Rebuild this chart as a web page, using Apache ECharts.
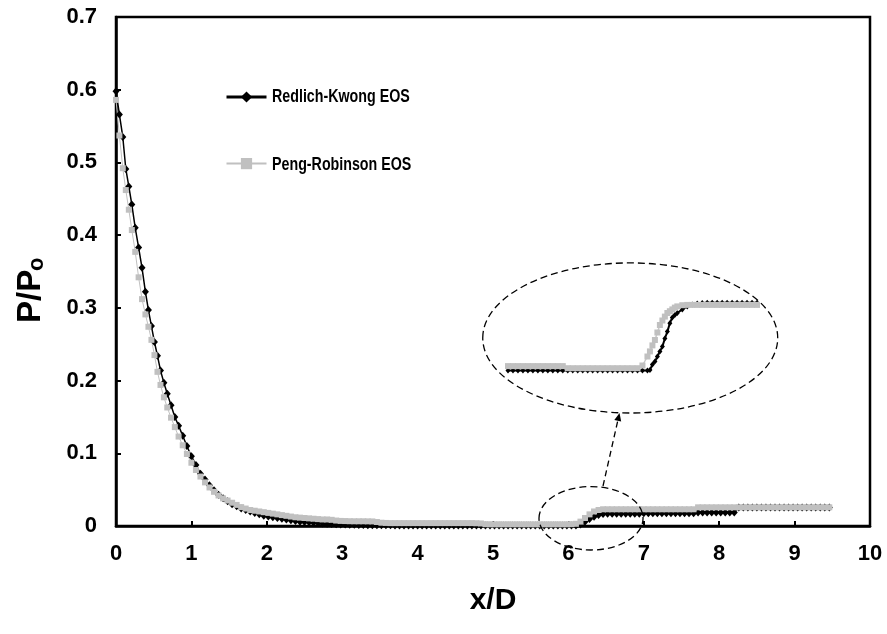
<!DOCTYPE html>
<html>
<head>
<meta charset="utf-8">
<script src="https://cdn.jsdelivr.net/npm/echarts@6/dist/echarts.min.js"></script>
<style>
  html, body { margin: 0; padding: 0; background: #fff; }
  #chart { width: 887px; height: 634px; }
</style>
</head>
<body>
<div id="chart"></div>
<script>
// Axial station along the jet, x/D
const xD = [
  0, 0.045, 0.09, 0.13, 0.17, 0.21, 0.255, 0.30, 0.345, 0.39,
  0.43, 0.47, 0.51, 0.55, 0.59, 0.635, 0.68, 0.73, 0.78, 0.83,
  0.885, 0.94, 1.0, 1.06, 1.12, 1.18, 1.24, 1.30, 1.36, 1.42,
  1.48, 1.54, 1.60, 1.66, 1.72, 1.78, 1.84, 1.90, 1.96, 2.02,
  2.08, 2.14, 2.20, 2.26, 2.32, 2.38, 2.44, 2.50, 2.56, 2.62,
  2.68, 2.74, 2.80, 2.86, 2.92, 2.98, 3.04, 3.10, 3.16, 3.22,
  3.28, 3.34, 3.40, 3.46, 3.52, 3.58, 3.64, 3.70, 3.76, 3.82,
  3.88, 3.94, 4.00, 4.06, 4.12, 4.18, 4.24, 4.30, 4.36, 4.42,
  4.48, 4.54, 4.60, 4.66, 4.72, 4.78, 4.84, 4.90, 4.96, 5.02,
  5.08, 5.14, 5.20, 5.26, 5.32, 5.38, 5.44, 5.50, 5.56, 5.62,
  5.68, 5.74, 5.80, 5.86, 5.92, 5.98, 6.04, 6.10, 6.16, 6.22,
  6.28, 6.34, 6.40, 6.46, 6.52, 6.58, 6.64, 6.70, 6.76, 6.82,
  6.88, 6.94, 7.00, 7.06, 7.12, 7.18, 7.24, 7.30, 7.36, 7.42,
  7.48, 7.54, 7.60, 7.66, 7.72, 7.78, 7.84, 7.90, 7.96, 8.02,
  8.08, 8.14, 8.20, 8.26, 8.32, 8.38, 8.44, 8.50, 8.56, 8.62,
  8.68, 8.74, 8.80, 8.86, 8.92, 8.98, 9.04, 9.10, 9.16, 9.22,
  9.28, 9.34, 9.40, 9.46
];

// P/Po with the Redlich-Kwong equation of state
const rkPressure = [
  0.598, 0.566, 0.535, 0.491, 0.467, 0.442, 0.410, 0.383, 0.355, 0.322,
  0.297, 0.275, 0.253, 0.234, 0.214, 0.197, 0.182, 0.166, 0.150, 0.138,
  0.124, 0.110, 0.096, 0.084, 0.072, 0.064, 0.056, 0.049, 0.043, 0.038,
  0.034, 0.030, 0.027, 0.024, 0.022, 0.020, 0.018, 0.016, 0.014, 0.013,
  0.012, 0.011, 0.010, 0.009, 0.008, 0.007, 0.006, 0.0055, 0.005, 0.0045,
  0.004, 0.0035, 0.003, 0.0028, 0.0025, 0.0022, 0.002, 0.0018, 0.0016, 0.0015,
  0.0014, 0.0012, 0.0011, 0.001, 0.001, 0.0009, 0.0009, 0.0008, 0.0008, 0.0008,
  0.0007, 0.0007, 0.0007, 0.0007, 0.0007, 0.0007, 0.0007, 0.0007, 0.0007, 0.0007,
  0.0006, 0.0006, 0.0006, 0.0006, 0.0006, 0.0006, 0.0006, 0.0006, 0.0006, 0.0006,
  0.0006, 0.0006, 0.0006, 0.0006, 0.0006, 0.0006, 0.0006, 0.0006, 0.0006, 0.0006,
  0.0006, 0.0006, 0.0006, 0.0006, 0.0006, 0.0006, 0.0006, 0.0006, 0.002, 0.006,
  0.0095, 0.0128, 0.0152, 0.0165, 0.0168, 0.0168, 0.0168, 0.0168, 0.0168, 0.0168,
  0.0168, 0.0168, 0.0175, 0.0175, 0.0175, 0.0175, 0.0175, 0.0175, 0.0175, 0.0175,
  0.0175, 0.0175, 0.0175, 0.0175, 0.0185, 0.0185, 0.0185, 0.0185, 0.0185, 0.0185,
  0.0185, 0.0185, 0.0185, 0.0255, 0.0255, 0.0256, 0.0256, 0.0256, 0.0256, 0.0256,
  0.0256, 0.0256, 0.0256, 0.0256, 0.0256, 0.0256, 0.0256, 0.0256, 0.0256, 0.0256,
  0.0256, 0.0256, 0.0256, 0.0256
];

// P/Po with the Peng-Robinson equation of state
const prPressure = [
  0.586, 0.537, 0.492, 0.462, 0.435, 0.407, 0.377, 0.342, 0.312, 0.291,
  0.274, 0.256, 0.235, 0.212, 0.194, 0.177, 0.163, 0.149, 0.136, 0.123,
  0.111, 0.099, 0.087, 0.077, 0.068, 0.060, 0.053, 0.047, 0.042, 0.038,
  0.035, 0.032, 0.029, 0.026, 0.024, 0.022, 0.021, 0.020, 0.019, 0.018,
  0.017, 0.016, 0.015, 0.014, 0.013, 0.012, 0.0115, 0.011, 0.0105, 0.010,
  0.0095, 0.009, 0.009, 0.0085, 0.0075, 0.007, 0.0068, 0.0066, 0.0065, 0.0065,
  0.0065, 0.0064, 0.0063, 0.0055, 0.0045, 0.0042, 0.004, 0.004, 0.004, 0.004,
  0.004, 0.004, 0.004, 0.004, 0.004, 0.004, 0.004, 0.004, 0.004, 0.004,
  0.004, 0.004, 0.004, 0.004, 0.004, 0.0038, 0.0035, 0.0025, 0.0023, 0.0023,
  0.0023, 0.0023, 0.0023, 0.0023, 0.0023, 0.0023, 0.0023, 0.0023, 0.0023, 0.0023,
  0.0023, 0.0023, 0.0023, 0.0023, 0.0023, 0.0023, 0.0025, 0.003, 0.006, 0.011,
  0.016, 0.020, 0.022, 0.023, 0.023, 0.023, 0.023, 0.023, 0.023, 0.023,
  0.023, 0.023, 0.023, 0.023, 0.023, 0.023, 0.023, 0.023, 0.023, 0.023,
  0.023, 0.023, 0.023, 0.023, 0.0257, 0.0257, 0.0257, 0.0257, 0.0257, 0.0257,
  0.0257, 0.0257, 0.0257, 0.0257, 0.0257, 0.0257, 0.0257, 0.0257, 0.0257, 0.0257,
  0.0257, 0.0257, 0.0257, 0.0257, 0.0257, 0.0257, 0.0257, 0.0257, 0.0257, 0.0257,
  0.0257, 0.0257, 0.0257, 0.0257
];

// Magnified view of the recompression near x/D = 6
const insetX = [
  4.70, 4.75, 4.80, 4.85, 4.90, 4.95, 5.00, 5.05, 5.10, 5.15,
  5.20, 5.25, 5.30, 5.35, 5.40, 5.45, 5.50, 5.55, 5.60, 5.65,
  5.70, 5.75, 5.80, 5.85, 5.90, 5.95, 6.00, 6.05, 6.10, 6.125,
  6.15, 6.175, 6.20, 6.225, 6.25, 6.275, 6.30, 6.325, 6.35, 6.375,
  6.40, 6.45, 6.50, 6.55, 6.60, 6.65, 6.70, 6.75, 6.80, 6.85,
  6.90, 6.95, 7.00, 7.05, 7.10, 7.15, 7.20
];
const insetRK = [
  0.0008, 0.0008, 0.0008, 0.0008, 0.0008, 0.0008, 0.0008, 0.0008, 0.0008, 0.0008,
  0.0008, 0.0008, 0.0008, 0.0008, 0.0008, 0.0008, 0.0008, 0.0008, 0.0008, 0.0008,
  0.0008, 0.0008, 0.0008, 0.0008, 0.0008, 0.0008, 0.0008, 0.0008, 0.0008, 0.001,
  0.0028, 0.0038, 0.0055, 0.0072, 0.0088, 0.0115, 0.0138, 0.0166, 0.0185, 0.0193,
  0.0200, 0.0212, 0.0222, 0.0228, 0.0232, 0.0233, 0.0234, 0.0234, 0.0234, 0.0234,
  0.0234, 0.0234, 0.0234, 0.0234, 0.0234, 0.0234, 0.0234
];
const insetPR = [
  0.0023, 0.0023, 0.0023, 0.0023, 0.0023, 0.0023, 0.0023, 0.0023, 0.0023, 0.0023,
  0.0023, 0.0023, 0.0016, 0.0016, 0.0016, 0.0016, 0.0016, 0.0016, 0.0016, 0.0016,
  0.0016, 0.0016, 0.0016, 0.0016, 0.0016, 0.0016, 0.0016, 0.0025, 0.0055, 0.0072,
  0.0092, 0.011, 0.0135, 0.016, 0.0175, 0.0188, 0.020, 0.0206, 0.0212, 0.0218,
  0.0222, 0.0226, 0.0227, 0.0227, 0.0227, 0.0227, 0.0227, 0.0227, 0.0227, 0.0227,
  0.0227, 0.0227, 0.0227, 0.0227, 0.0227, 0.0227, 0.0227
];

const xTickLabels = ['0', '1', '2', '3', '4', '5', '6', '7', '8', '9', '10'];
const yTickLabels = ['0', '0.1', '0.2', '0.3', '0.4', '0.5', '0.6', '0.7'];
const seriesNames = ['Redlich-Kwong EOS', 'Peng-Robinson EOS'];

const FONT = 'Arial, "Liberation Sans", sans-serif';
const pairs = (xs, ys) => xs.map((x, i) => [x, ys[i]]);

// Legend geometry: icons come from the ECharts legend, captions are condensed text beside them
const LEG = { left: 225, top: 90, itemWidth: 40, itemHeight: 14, itemGap: 54, captionGap: 7 };

const chart = echarts.init(document.getElementById('chart'), null, { renderer: 'canvas' });

const option = {
  animation: false,
  backgroundColor: '#fff',
  textStyle: { fontFamily: FONT },
  grid: [
    { left: 116, right: 17, top: 17, bottom: 108, show: true, borderColor: '#000', borderWidth: 2.5, backgroundColor: 'transparent' },
    { left: 508, top: 298, width: 249, height: 75, show: false }
  ],
  legend: {
    orient: 'vertical',
    left: LEG.left,
    top: LEG.top,
    padding: 0,
    itemWidth: LEG.itemWidth,
    itemHeight: LEG.itemHeight,
    itemGap: LEG.itemGap,
    selectedMode: false,
    formatter: () => '',
    data: [
      { name: seriesNames[0], lineStyle: { width: 3 } },
      { name: seriesNames[1] }
    ]
  },
  xAxis: [
    {
      type: 'value', gridIndex: 0, min: 0, max: 10, interval: 1,
      axisLine: { show: true, onZero: false, lineStyle: { color: '#000', width: 2.5 } },
      axisTick: { show: true, inside: true, length: 5, lineStyle: { color: '#000', width: 2 } },
      axisLabel: {
        margin: 17, fontSize: 22, fontWeight: 'bold', color: '#000', fontFamily: FONT,
        formatter: v => xTickLabels[Math.round(v)]
      },
      splitLine: { show: false },
      name: 'x/D', nameLocation: 'middle', nameGap: 60,
      nameTextStyle: { fontSize: 30, fontWeight: 'bold', color: '#000', fontFamily: FONT }
    },
    { type: 'value', gridIndex: 1, min: 4.7, max: 7.2, show: false }
  ],
  yAxis: [
    {
      type: 'value', gridIndex: 0, min: 0, max: 0.7, interval: 0.1,
      axisLine: { show: true, onZero: false, lineStyle: { color: '#000', width: 2.5 } },
      axisTick: { show: true, inside: true, length: 5, lineStyle: { color: '#000', width: 2 } },
      axisLabel: {
        margin: 19, fontSize: 22, fontWeight: 'bold', color: '#000', fontFamily: FONT,
        formatter: v => yTickLabels[Math.round(v * 10)]
      },
      splitLine: { show: false }
    },
    { type: 'value', gridIndex: 1, min: 0, max: 0.025, show: false }
  ],
  series: [
    {
      name: seriesNames[0], type: 'line', xAxisIndex: 0, yAxisIndex: 0,
      data: pairs(xD, rkPressure),
      symbol: 'diamond', symbolSize: [7, 8], showSymbol: true,
      itemStyle: { color: '#000' },
      lineStyle: { color: '#000', width: 1.5 },
      emphasis: { disabled: true }
    },
    {
      name: seriesNames[1], type: 'line', xAxisIndex: 0, yAxisIndex: 0,
      data: pairs(xD, prPressure),
      symbol: 'rect', symbolSize: 6, showSymbol: true,
      itemStyle: { color: '#c0c0c0' },
      lineStyle: { color: '#c0c0c0', width: 1 },
      emphasis: { disabled: true }
    },
    {
      name: 'RK magnified', type: 'line', xAxisIndex: 1, yAxisIndex: 1,
      data: pairs(insetX, insetRK),
      symbol: 'diamond', symbolSize: [5, 6], showSymbol: true,
      itemStyle: { color: '#000' },
      lineStyle: { color: '#000', width: 2 },
      emphasis: { disabled: true }
    },
    {
      name: 'PR magnified', type: 'line', xAxisIndex: 1, yAxisIndex: 1,
      data: pairs(insetX, insetPR),
      symbol: 'rect', symbolSize: 6, showSymbol: true,
      itemStyle: { color: '#c0c0c0' },
      lineStyle: { color: '#c8c8c8', width: 1.5 },
      emphasis: { disabled: true }
    }
  ]
};

chart.setOption(option);

// Dashed callouts: ring around the recompression, ring around the magnified view, arrow between them
const toPx = p => chart.convertToPixel({ gridIndex: 0 }, p);
function ellipseAt(cx, cy, rx, ry) {
  const c = toPx([cx, cy]);
  const ex = toPx([cx + rx, cy]);
  const ey = toPx([cx, cy + ry]);
  return {
    type: 'ellipse', silent: true,
    shape: { cx: c[0], cy: c[1], rx: Math.abs(ex[0] - c[0]), ry: Math.abs(c[1] - ey[1]) },
    style: { fill: 'none', stroke: '#000', lineWidth: 1.3, lineDash: [7, 4] },
    z: 10
  };
}
const tail = toPx([6.459, 0.055]);
const tip = toPx([6.678, 0.1554]);
const dx = tip[0] - tail[0], dy = tip[1] - tail[1];
const len = Math.hypot(dx, dy);
const ux = dx / len, uy = dy / len;
const headLen = 8, headHalf = 3.5;
const base = [tip[0] - ux * headLen, tip[1] - uy * headLen];
const head = [
  [tip[0], tip[1]],
  [base[0] - uy * headHalf, base[1] + ux * headHalf],
  [base[0] + uy * headHalf, base[1] - ux * headHalf]
];

// Legend captions in a condensed bold face, centred on their icons
const legendCaptions = seriesNames.map((name, i) => ({
  type: 'text', silent: true,
  x: LEG.left + LEG.itemWidth + LEG.captionGap,
  y: LEG.top + LEG.itemHeight / 2 + i * (LEG.itemHeight + LEG.itemGap),
  scaleX: 0.75,
  style: { text: name, font: 'bold 19px ' + FONT, fill: '#000', align: 'left', verticalAlign: 'middle' }
}));

chart.setOption({
  graphic: [
    ellipseAt(6.30, 0.0106, 0.69, 0.0436),
    ellipseAt(6.82, 0.2586, 1.956, 0.1032),
    {
      type: 'line', silent: true,
      shape: { x1: tail[0], y1: tail[1], x2: base[0], y2: base[1] },
      style: { stroke: '#000', lineWidth: 1.3, lineDash: [6, 4] },
      z: 10
    },
    {
      type: 'polygon', silent: true,
      shape: { points: head },
      style: { fill: '#000' },
      z: 10
    },
    ...legendCaptions,
    // Vertical axis title P/Po, read bottom to top with a subscript o
    {
      type: 'group', x: 31, y: 290, rotation: Math.PI / 2, silent: true,
      children: [
        {
          type: 'text', x: -33, y: 0,
          style: { text: 'P/P', font: 'bold 33px ' + FONT, fill: '#000', align: 'left', verticalAlign: 'middle' }
        },
        {
          type: 'text', x: 19, y: 6,
          style: { text: 'o', font: 'bold 22px ' + FONT, fill: '#000', align: 'left', verticalAlign: 'middle' }
        }
      ]
    }
  ]
});
</script>
</body>
</html>
